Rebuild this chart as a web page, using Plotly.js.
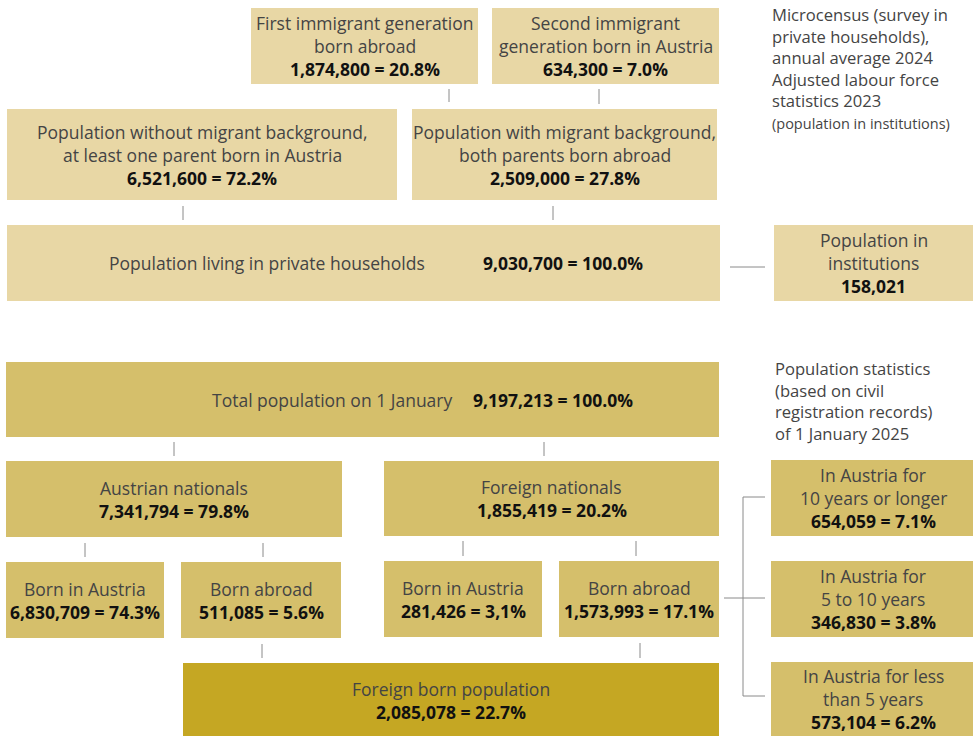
<!DOCTYPE html>
<html>
<head>
<meta charset="utf-8">
<script src="https://cdn.plot.ly/plotly-3.0.1.min.js"></script>
<style>html,body{margin:0;padding:0;background:#fff;}#chart{width:973px;height:736px;}</style>
</head>
<body>
<div id="chart"></div>
<script>
// ---- DATA ----
const boxIds = ["first","second","noMig","mig","private","inst","total","austrian","foreign","atBornAT","atBornAbroad","frBornAT","frBornAbroad","foreignBorn","ten","five","less"];
const boxLabels = [
  ["First immigrant generation","born abroad"],
  ["Second immigrant","generation born in Austria"],
  ["Population without migrant background,","at least one parent born in Austria"],
  ["Population with migrant background,","both parents born abroad"],
  ["Population living in private households"],
  ["Population in","institutions"],
  ["Total population on 1 January"],
  ["Austrian nationals"],
  ["Foreign nationals"],
  ["Born in Austria"],
  ["Born abroad"],
  ["Born in Austria"],
  ["Born abroad"],
  ["Foreign born population"],
  ["In Austria for","10 years or longer"],
  ["In Austria for","5 to 10 years"],
  ["In Austria for less","than 5 years"]
];
const boxCounts = [1874800,634300,6521600,2509000,9030700,158021,9197213,7341794,1855419,6830709,511085,281426,1573993,2085078,654059,346830,573104];
const boxShares = ["20.8%","7.0%","72.2%","27.8%","100.0%","","100.0%","79.8%","20.2%","74.3%","5.6%","3,1%","17.1%","22.7%","7.1%","3.8%","6.2%"];
const noteMicrocensus = ["Microcensus (survey in","private households),","annual average 2024","Adjusted labour force","statistics 2023"];
const noteInstitutions = "(population in institutions)";
const notePopStats = ["Population statistics","(based on civil","registration records)","of 1 January 2025"];

// ---- LAYOUT GEOMETRY (pixels) ----
const C_LIGHT = "#e8d7a5", C_MID = "#d5bf6b", C_DARK = "#c5a723";
const geom = {
  first:        [251,478,8,84,C_LIGHT],
  second:       [492,719,8,84,C_LIGHT],
  noMig:        [7,397,109,200,C_LIGHT],
  mig:          [412,717,109,200,C_LIGHT],
  private:      [7,720,225,301,C_LIGHT,"inline",267,563],
  inst:         [774,973,225,301,C_LIGHT],
  total:        [6,719,362,437,C_MID,"inline",332,553],
  austrian:     [6,342,461,537,C_MID],
  foreign:      [384,719,461,536,C_MID],
  atBornAT:     [6,164,562,638,C_MID],
  atBornAbroad: [181,341,562,638,C_MID],
  frBornAT:     [384,542,561,637,C_MID],
  frBornAbroad: [559,719,561,637,C_MID],
  foreignBorn:  [183,719,663,740,C_DARK,"top"],
  ten:          [771,975,460,536,C_MID],
  five:         [771,975,561,637,C_MID],
  less:         [771,975,662,740,C_MID,"top"]
};
const connectors = [
  [449,89,449,102],[599,89,599,104],[183,206,183,220],[553,206,553,220],[730,267,765,267],
  [174,442,174,456],[544,442,544,456],[85,543,85,557],[263,543,263,557],[463,541,463,556],[636,541,636,556],
  [262,644,262,658],[640,643,640,658],
  [743,497,743,696],[743,497,765,497],[743,696,765,696],[724,598,765,598]
];

const FONT = "'Open Sans', sans-serif";
const FS = 17.5, FSB = 17.5, LH = 23, FSN = 16.6;
const TXT = "#444444", NUM = "#111111";

const shapes = [], annotations = [];
boxIds.forEach((id, i) => {
  const g = geom[id];
  const [x0,x1,y0,y1,fill,mode] = g;
  shapes.push({type:"rect", xref:"x", yref:"y", x0, x1, y0, y1, fillcolor: fill, line:{width:0}, layer:"below"});
  const num = boxCounts[i].toLocaleString("en-US") + (boxShares[i] ? " = " + boxShares[i] : "");
  if (mode === "inline") {
    const cy = (y0+y1)/2;
    annotations.push({x:g[6], y:cy, xref:"x", yref:"y", text: boxLabels[i][0], showarrow:false, xanchor:"center", yanchor:"middle", font:{family:FONT, size:FS, color:TXT}});
    annotations.push({x:g[7], y:cy, xref:"x", yref:"y", text: "<b>"+num+"</b>", showarrow:false, xanchor:"center", yanchor:"middle", font:{family:FONT, size:FSB, color:NUM}});
    return;
  }
  const lines = boxLabels[i].map(t => ({t, b:false})).concat([{t:num, b:true}]);
  const cx = (x0+x1)/2;
  let cy = (y0+y1)/2;
  if (mode === "top") cy = y0 + 37;
  const start = cy - (lines.length-1)*LH/2;
  lines.forEach((ln, k) => {
    annotations.push({x:cx, y:start + k*LH, xref:"x", yref:"y",
      text: ln.b ? "<b>"+ln.t+"</b>" : ln.t, showarrow:false, xanchor:"center", yanchor:"middle",
      font:{family:FONT, size: ln.b ? FSB : FS, color: ln.b ? NUM : TXT}});
  });
});
connectors.forEach(c => shapes.push({type:"line", xref:"x", yref:"y", x0:c[0], y0:c[1], x1:c[2], y1:c[3], line:{color:"#8a8a8a", width:1}}));

annotations.push({x:771, y:1.5, xref:"x", yref:"y", borderpad:0,
  text: noteMicrocensus.join("<br>") + "<br><span style='font-size:14.5px'>" + noteInstitutions + "</span>",
  showarrow:false, xanchor:"left", yanchor:"top", align:"left", font:{family:FONT, size:FSN, color:TXT}});
annotations.push({x:774, y:355.5, xref:"x", yref:"y", borderpad:0,
  text: notePopStats.join("<br>"),
  showarrow:false, xanchor:"left", yanchor:"top", align:"left", font:{family:FONT, size:FSN, color:TXT}});

const layout = {
  width:973, height:736, margin:{l:0,r:0,t:0,b:0},
  paper_bgcolor:"#ffffff", plot_bgcolor:"#ffffff",
  xaxis:{range:[0,973], visible:false, fixedrange:true},
  yaxis:{range:[736,0], visible:false, fixedrange:true},
  shapes, annotations, showlegend:false
};
Plotly.newPlot("chart", [], layout, {displayModeBar:false, staticPlot:true});
</script>
</body>
</html>
